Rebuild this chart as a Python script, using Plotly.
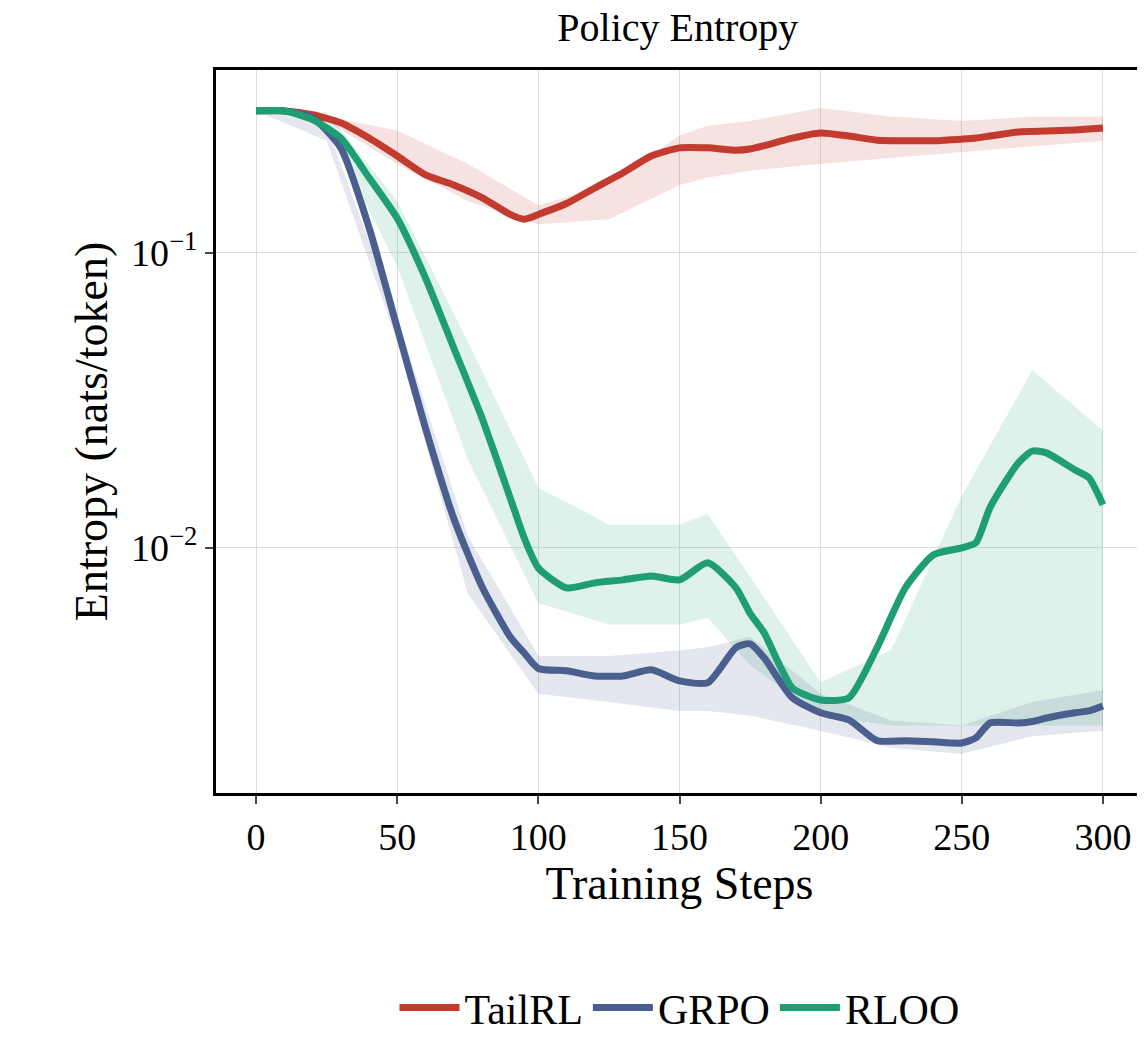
import plotly.graph_objects as go

steps = [0, 10, 20, 30, 40, 50, 60, 70, 80, 90, 95, 100, 110, 120, 130, 140, 150, 160,
         170, 175, 180, 190, 200, 210, 220, 230, 240, 250, 255, 260, 270, 275, 280, 290, 295, 300]

tailrl = [0.303, 0.303, 0.294, 0.276, 0.245, 0.213, 0.184, 0.170, 0.154, 0.135, 0.130, 0.135,
          0.147, 0.166, 0.187, 0.213, 0.227, 0.227, 0.223, 0.225, 0.231, 0.245, 0.255, 0.249,
          0.241, 0.240, 0.240, 0.243, 0.245, 0.249, 0.257, 0.258, 0.259, 0.261, 0.263, 0.265]
grpo = [0.303, 0.303, 0.287, 0.227, 0.122, 0.0557, 0.0255, 0.0126, 0.0074, 0.0050, 0.0044, 0.0039,
        0.00383, 0.00368, 0.00368, 0.00386, 0.00354, 0.00349, 0.00459, 0.00473, 0.00424, 0.00310,
        0.00276, 0.00261, 0.00222, 0.00222, 0.00220, 0.00218, 0.00227, 0.00255, 0.00255, 0.00258,
        0.00265, 0.00276, 0.00280, 0.00291]
rloo = [0.303, 0.303, 0.283, 0.245, 0.180, 0.131, 0.0823, 0.0477, 0.0276, 0.0148, 0.0108, 0.00855,
        0.00732, 0.00761, 0.00779, 0.00803, 0.00779, 0.00890, 0.00732, 0.00600, 0.00515, 0.00335,
        0.00305, 0.00310, 0.00459, 0.00732, 0.00947, 0.0100, 0.0104, 0.0137, 0.0194, 0.0213,
        0.0210, 0.0184, 0.0173, 0.0140]

band_steps = [0, 25, 50, 75, 100, 125, 150, 160, 175, 200, 225, 250, 275, 300]
tailrl_hi = [0.303, 0.29, 0.26, 0.20, 0.145, 0.17, 0.25, 0.27, 0.28, 0.31, 0.29, 0.28, 0.29, 0.29]
tailrl_lo = [0.303, 0.28, 0.20, 0.15, 0.125, 0.13, 0.17, 0.18, 0.19, 0.20, 0.21, 0.22, 0.23, 0.24]
grpo_hi = [0.303, 0.27, 0.060, 0.011, 0.0043, 0.0043, 0.0045, 0.0046, 0.0050, 0.0032, 0.0026, 0.0025, 0.0030, 0.0033]
grpo_lo = [0.303, 0.24, 0.050, 0.0070, 0.0032, 0.0030, 0.0028, 0.0028, 0.0027, 0.0024, 0.0021, 0.0020, 0.0023, 0.0024]
rloo_hi = [0.303, 0.30, 0.15, 0.050, 0.016, 0.012, 0.012, 0.013, 0.008, 0.0035, 0.0045, 0.015, 0.040, 0.025]
rloo_lo = [0.303, 0.27, 0.09, 0.020, 0.0065, 0.0055, 0.0055, 0.0058, 0.0040, 0.0027, 0.0025, 0.0025, 0.0025, 0.0025]

series = [
    ("TailRL", tailrl, tailrl_hi, tailrl_lo, "#c23b2e", "rgba(194,59,46,0.15)"),
    ("GRPO", grpo, grpo_hi, grpo_lo, "#4a5f8e", "rgba(74,95,142,0.15)"),
    ("RLOO", rloo, rloo_hi, rloo_lo, "#1f9e75", "rgba(31,158,117,0.15)"),
]

fig = go.Figure()
for name, y, hi, lo, col, fill in series:
    fig.add_trace(go.Scatter(x=band_steps + band_steps[::-1], y=hi + lo[::-1], fill="toself",
                             fillcolor=fill, line=dict(width=0), showlegend=False, hoverinfo="skip"))
for name, y, hi, lo, col, fill in series:
    fig.add_trace(go.Scatter(x=steps, y=y, mode="lines", name=name,
                             line=dict(color=col, width=7, shape="spline", smoothing=0.6)))

font = "Liberation Serif, DejaVu Serif, serif"
fig.update_layout(
    width=1145, height=1037, plot_bgcolor="white", paper_bgcolor="white",
    font=dict(family=font, size=38, color="black"),
    margin=dict(l=208, r=10, t=62, b=252, autoexpand=False),
    title=dict(text="Policy Entropy", x=0.585, xanchor="center", y=0.995, yanchor="top",
               font=dict(size=40)),
    legend=dict(orientation="h", x=0.5, xanchor="center", y=-0.25, yanchor="top",
                font=dict(size=42), itemwidth=60, tracegroupgap=30),
)
fig.update_xaxes(range=[-14.2, 314.2], tickvals=[0, 50, 100, 150, 200, 250, 300],
                 title=dict(text="Training Steps", standoff=6), showgrid=True, gridcolor="#dddddd",
                 showline=True, linecolor="black", linewidth=3, mirror=True,
                 ticks="outside", ticklen=8, tickwidth=2, zeroline=False)
fig.update_yaxes(type="log", range=[-2.831, -0.38], tickvals=[0.01, 0.1],
                 ticktext=["10<sup>−2</sup>", "10<sup>−1</sup>"],
                 title=dict(text="Entropy (nats/token)", standoff=10), showgrid=True, gridcolor="#dddddd",
                 showline=True, linecolor="black", linewidth=3, mirror=True,
                 ticks="outside", ticklen=8, tickwidth=2, zeroline=False)
fig.write_html("out.html")
